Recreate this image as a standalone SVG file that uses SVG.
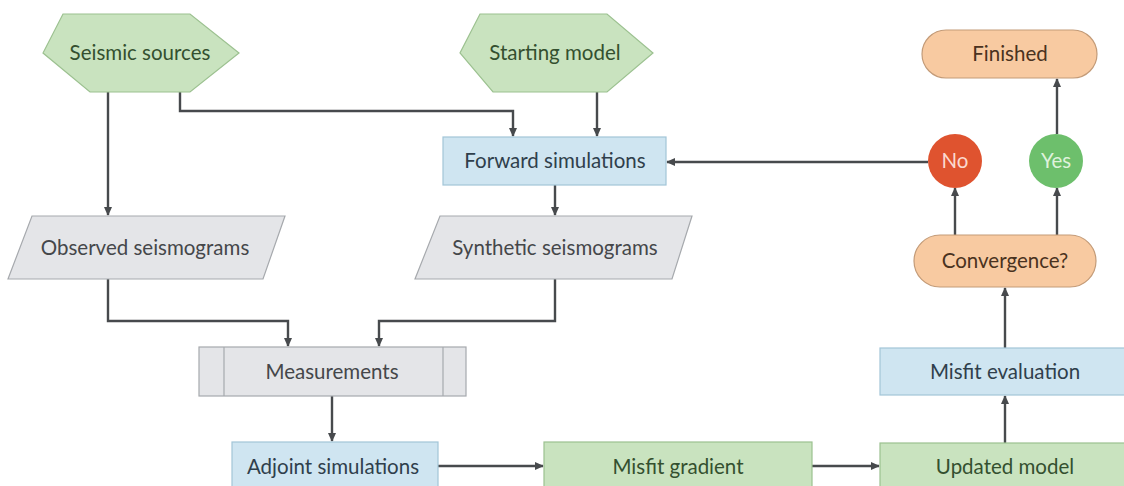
<svg xmlns="http://www.w3.org/2000/svg" width="1124" height="486" viewBox="0 0 1124 486">
  <defs>
    <marker id="arrow" viewBox="0 0 10 10" refX="9" refY="5" markerWidth="9" markerHeight="9" markerUnits="userSpaceOnUse" orient="auto">
      <path d="M0,0.5 L10,5 L0,9.5 Z" fill="#474a4d"/>
    </marker>
    <style>
      .lbl { font-family: Lato, "Open Sans", sans-serif; font-size: 20.5px; text-anchor: middle; }
      .green { fill: #c9e3bf; stroke: #9cc190; stroke-width: 1.2; }
      .blue { fill: #cfe5f1; stroke: #a2c5d8; stroke-width: 1.2; }
      .gray { fill: #e4e5e8; stroke: #a6a9ad; stroke-width: 1.2; }
      .orange { fill: #f8caa1; stroke: #c39b78; stroke-width: 1.2; }
      .t-green { fill: #34502f; }
      .t-blue { fill: #2f3f4c; }
      .t-gray { fill: #45474a; }
      .t-orange { fill: #4a3220; }
      .conn { fill: none; stroke: #474a4d; stroke-width: 2.4; }
    </style>
  </defs>

  <rect width="1124" height="486" fill="#ffffff"/>

  <!-- connectors -->
  <g id="connectors">
    <path class="conn" d="M108,92 V215" marker-end="url(#arrow)"/>
    <path class="conn" d="M180,92 V111 H513 V136" marker-end="url(#arrow)"/>
    <path class="conn" d="M597,92 V136" marker-end="url(#arrow)"/>
    <path class="conn" d="M555,185 V215" marker-end="url(#arrow)"/>
    <path class="conn" d="M108,279 V321 H288 V346" marker-end="url(#arrow)"/>
    <path class="conn" d="M555,279 V321 H379 V346" marker-end="url(#arrow)"/>
    <path class="conn" d="M332,396 V441" marker-end="url(#arrow)"/>
    <path class="conn" d="M438,466 H543" marker-end="url(#arrow)"/>
    <path class="conn" d="M812,466 H879" marker-end="url(#arrow)"/>
    <path class="conn" d="M1005,443 V396" marker-end="url(#arrow)"/>
    <path class="conn" d="M1005,348 V288" marker-end="url(#arrow)"/>
    <path class="conn" d="M955,235 V188" marker-end="url(#arrow)"/>
    <path class="conn" d="M1057,235 V188" marker-end="url(#arrow)"/>
    <path class="conn" d="M1057,134 V79" marker-end="url(#arrow)"/>
    <path class="conn" d="M928,162 H667" marker-end="url(#arrow)"/>
  </g>

  <!-- inputs -->
  <g id="seismic-sources">
    <polygon class="green" points="63,14 190,14 239,53 190,92 90,92 43,53"/>
    <text class="lbl t-green" x="140" y="60">Seismic sources</text>
  </g>
  <g id="starting-model">
    <polygon class="green" points="480,14 607,14 653,53 607,92 493,92 460,53"/>
    <text class="lbl t-green" x="555" y="60">Starting model</text>
  </g>

  <!-- forward branch -->
  <g id="forward-simulations">
    <rect class="blue" x="443" y="137" width="223" height="48"/>
    <text class="lbl t-blue" x="555" y="168">Forward simulations</text>
  </g>
  <g id="observed-seismograms">
    <polygon class="gray" points="32,216 285,216 263,279 8,279"/>
    <text class="lbl t-gray" x="145" y="255">Observed seismograms</text>
  </g>
  <g id="synthetic-seismograms">
    <polygon class="gray" points="440,216 692,216 672,279 415,279"/>
    <text class="lbl t-gray" x="555" y="255">Synthetic seismograms</text>
  </g>
  <g id="measurements">
    <rect class="gray" x="199" y="347" width="267" height="49"/>
    <line class="gray" x1="224" y1="347" x2="224" y2="396"/>
    <line class="gray" x1="443" y1="347" x2="443" y2="396"/>
    <text class="lbl t-gray" x="332" y="379">Measurements</text>
  </g>

  <!-- adjoint / update chain -->
  <g id="adjoint-simulations">
    <rect class="blue" x="232" y="442" width="206" height="50"/>
    <text class="lbl t-blue" x="333" y="474">Adjoint simulations</text>
  </g>
  <g id="misfit-gradient">
    <rect class="green" x="544" y="442" width="268" height="50"/>
    <text class="lbl t-green" x="678" y="474">Misfit gradient</text>
  </g>
  <g id="updated-model">
    <rect class="green" x="880" y="443" width="250" height="50"/>
    <text class="lbl t-green" x="1005" y="474">Updated model</text>
  </g>
  <g id="misfit-evaluation">
    <rect class="blue" x="880" y="348" width="250" height="47"/>
    <text class="lbl t-blue" x="1005" y="379">Misfit evaluation</text>
  </g>

  <!-- decision -->
  <g id="convergence">
    <rect class="orange" x="914" y="235" width="182" height="52" rx="26"/>
    <text class="lbl t-orange" x="1005" y="268">Convergence?</text>
  </g>
  <g id="no">
    <circle cx="955" cy="161" r="27" fill="#df532f"/>
    <text class="lbl" x="955" y="168" fill="#fbd9cf">No</text>
  </g>
  <g id="yes">
    <circle cx="1056" cy="161" r="27" fill="#6dbf6c"/>
    <text class="lbl" x="1056" y="168" fill="#dff2dc">Yes</text>
  </g>
  <g id="finished">
    <rect class="orange" x="922" y="30" width="175" height="48" rx="24"/>
    <text class="lbl t-orange" x="1010" y="61">Finished</text>
  </g>
</svg>
